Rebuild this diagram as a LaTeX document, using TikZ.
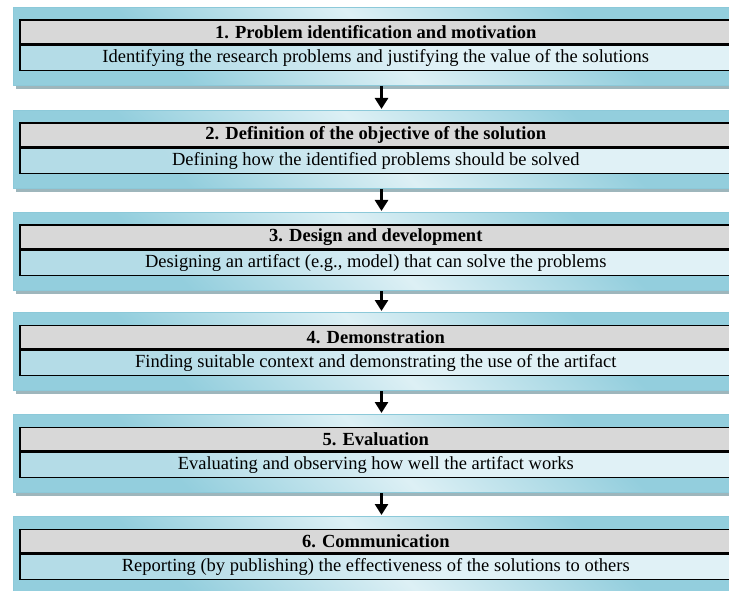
\documentclass[tikz,border=0pt]{standalone}
\usepackage{fontspec}
\setmainfont{Liberation Serif}
\usetikzlibrary{arrows.meta,calc}

\definecolor{paneledge}{HTML}{8CC9D9}
\definecolor{paneldark}{HTML}{93CEDD}
\definecolor{panellight}{HTML}{DDF0F5}
\definecolor{bodydark}{HTML}{B4DCE7}
\definecolor{bodylight}{HTML}{E0F1F6}
\definecolor{headgray}{HTML}{D8D8D8}
\definecolor{shadowgray}{HTML}{9EB6BC}

% diagonal band: dark corners, light stripe across the middle
\pgfdeclareverticalshading{panelband}{100bp}{%
  color(0bp)=(paneldark); color(30bp)=(paneldark);
  color(50bp)=(panellight);
  color(70bp)=(paneldark); color(100bp)=(paneldark)}
\pgfdeclareverticalshading{bodyband}{100bp}{%
  color(0bp)=(bodydark); color(30bp)=(bodydark);
  color(55bp)=(bodylight);
  color(75bp)=(bodylight); color(100bp)=(bodylight)}

\tikzset{
  panel/.style={draw=paneledge, line width=1pt, shading=panelband,
    shading angle=-45, minimum width=736pt, minimum height=78pt,
    inner sep=0pt, anchor=north west},
  rowtext/.style={font=\fontsize{18.5}{20}\selectfont, inner sep=0pt,
    minimum width=730pt, anchor=north west, draw=black, line width=1.6pt},
  headrow/.style={rowtext, fill=headgray, minimum height=23.5pt},
  bodyrow/.style={rowtext, shading=bodyband, shading angle=-60,
    minimum height=25pt},
  flow/.style={draw=black, line width=2.6pt,
    -{Triangle[width=13pt,length=11pt]}, shorten >=1pt},
}

% the rows run on past the right margin, so their text sits a little left
\newcommand\rowlabel[1]{\hspace*{-18pt}#1}

% one stage of the process: shadow, panel, title row and description row
\newcommand\dsrstage[4]{%
  \fill[shadowgray] (16,{#2+77}) rectangle (752,{#2+82});
  \node[panel] (p#1) at (13,#2) {};
  \node[headrow] (h#1) at (19,{#2+12.5}) {\rowlabel{\bfseries #3}};
  \node[bodyrow] (b#1) at (h#1.south west) {\rowlabel{#4}};
}

\begin{document}
\begin{tikzpicture}[x=1pt,y=-1pt]
  \clip (0,0) rectangle (729,591);
  \fill[white] (0,0) rectangle (729,591);

  \dsrstage{1}{7}{1. Problem identification and motivation}
    {Identifying the research problems and justifying the value of the solutions}
  \dsrstage{2}{110}{2. Definition of the objective of the solution}
    {Defining how the identified problems should be solved}
  \dsrstage{3}{212}{3. Design and development}
    {Designing an artifact (e.g., model) that can solve the problems}
  \dsrstage{4}{312}{4. Demonstration}
    {Finding suitable context and demonstrating the use of the artifact}
  \dsrstage{5}{414}{5. Evaluation}
    {Evaluating and observing how well the artifact works}
  \dsrstage{6}{516}{6. Communication}
    {Reporting (by publishing) the effectiveness of the solutions to others}

  \draw[flow] (p1.south) -- (p2.north);
  \draw[flow] (p2.south) -- (p3.north);
  \draw[flow] (p3.south) -- (p4.north);
  \draw[flow] (p4.south) -- (p5.north);
  \draw[flow] (p5.south) -- (p6.north);
\end{tikzpicture}
\end{document}
